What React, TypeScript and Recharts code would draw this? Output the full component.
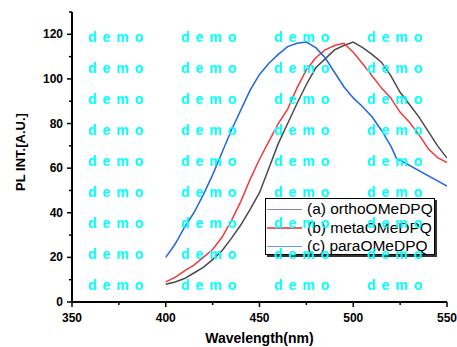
import React from 'react';
import { LineChart, Line, XAxis, YAxis, Legend } from 'recharts';

const wavelengths = [400, 405, 410, 415, 420, 425, 430, 435, 440, 445, 450, 455, 460, 465, 470, 475, 480, 485, 490, 495, 500, 505, 510, 515, 520, 525, 530, 535, 540, 545, 550];
const orthoValues = [8, 9, 10.5, 13, 15.5, 19, 23, 28.5, 34.5, 41.5, 49, 60, 71, 80, 89, 97.5, 105, 109, 113, 115, 116.5, 114, 111, 107.5, 101.5, 94, 88.5, 83, 76.5, 70, 64.5];
const metaValues = [9, 11, 14, 16.5, 20, 23.5, 29, 36.5, 45, 55, 64, 72, 80, 86.5, 96, 104, 109.5, 113, 115, 116, 112, 106.8, 101.4, 96, 91.5, 85, 80.6, 75, 68.7, 64.7, 62.5];
const paraWavelengths = [400, 405, 410, 415, 420, 425, 430, 435, 440, 445, 450, 455, 460, 465, 470, 475, 480, 485, 490, 495, 500, 505, 510, 515, 520, 523, 550];
const paraValues = [20, 26, 33.5, 40, 48, 57, 67, 77, 86, 95, 102, 107, 111, 114.5, 116, 116.5, 114, 109.5, 103, 96.5, 91.5, 87.5, 83, 77, 70, 64.5, 52];

const seriesNames = ['(a) orthoOMeDPQ', '(b) metaOMeDPQ', '(c) paraOMeDPQ'];
const seriesColors = ['#4a4a4a', '#f03a3a', '#2266e0'];
const legendColors = ['#8a8a8a', '#f06060', '#6a9af0'];

const xTicks = [350, 375, 400, 425, 450, 475, 500, 525, 550];
const yTicks = [0, 10, 20, 30, 40, 50, 60, 70, 80, 90, 100, 110, 120, 130];

const watermarkText = 'demo';
const watermarkCols = [88, 181, 274, 367];
const watermarkRows = [41.7, 72.7, 103.7, 134.7, 165.7, 196.7, 227.7, 258.7, 289.7];

const orthoData = wavelengths.map((w, i) => ({ w, v: orthoValues[i] }));
const metaData = wavelengths.map((w, i) => ({ w, v: metaValues[i] }));
const paraData = paraWavelengths.map((w, i) => ({ w, v: paraValues[i] }));

const FONT = '"Liberation Sans", Arial, Helvetica, sans-serif';

const XTick = (props: any) => {
  const { x, y, payload } = props;
  const major = payload.value % 50 === 0;
  return (
    <g>
      <line x1={x} x2={x} y1={y} y2={y + (major ? 5 : 3)} stroke="#000" strokeWidth={1.5} />
      {major && (
        <text x={x} y={y + 20} textAnchor="middle" fontSize={12} fontFamily={FONT} fontWeight="bold" fill="#000">
          {payload.value}
        </text>
      )}
    </g>
  );
};

const YTick = (props: any) => {
  const { x, y, payload } = props;
  const major = payload.value % 20 === 0;
  return (
    <g>
      <line x1={x} x2={x - (major ? 5 : 3)} y1={y} y2={y} stroke="#000" strokeWidth={1.5} />
      {major && (
        <text x={x - 9} y={y + 4} textAnchor="end" fontSize={12} fontFamily={FONT} fontWeight="bold" fill="#000">
          {payload.value}
        </text>
      )}
    </g>
  );
};

const YTitle = (props: any) => {
  const vb = props.viewBox || { x: 0, y: 12, width: 72, height: 290 };
  const cx = 20;
  const cy = vb.y + vb.height / 2 - 5;
  return (
    <text
      x={cx}
      y={cy}
      transform={`rotate(-90, ${cx}, ${cy})`}
      textAnchor="middle"
      dominantBaseline="central"
      fontSize={13}
      fontWeight="bold"
      fontFamily={FONT}
      fill="#000"
    >
      PL INT.[A.U.]
    </text>
  );
};

const LegendBox = (props: any) => {
  const payload = props.payload || [];
  return (
    <div
      style={{
        width: 170,
        height: 57,
        border: '1px solid #000',
        boxShadow: '2px 2px 0 #333',
        background: '#fff',
        boxSizing: 'border-box',
        paddingTop: 1,
        fontFamily: FONT,
      }}
    >
      {payload.map((entry: any, i: number) => (
        <div key={i} style={{ display: 'flex', alignItems: 'center', height: 18.5 }}>
          <div style={{ width: 35, height: 1.5, background: legendColors[i], marginLeft: 1, marginRight: 5 }} />
          <span style={{ fontSize: 15.5, color: '#000', lineHeight: '18px', whiteSpace: 'nowrap' }}>{entry.value}</span>
        </div>
      ))}
    </div>
  );
};

export default function App() {
  return (
    <div style={{ position: 'absolute', left: 0, top: 0, width: 457, height: 347, background: '#fff' }}>
      <LineChart width={457} height={347} margin={{ top: 12, right: 10, bottom: 0, left: 0 }}>
        <XAxis
          type="number"
          dataKey="w"
          domain={[350, 550]}
          ticks={xTicks}
          interval={0}
          height={45}
          tickSize={0}
          tickMargin={0}
          tickLine={false}
          axisLine={{ stroke: '#000', strokeWidth: 2 }}
          tick={<XTick />}
          allowDataOverflow
          label={{
            value: 'Wavelength(nm)',
            position: 'insideBottom',
            offset: 4,
            style: { fontSize: 14, fontWeight: 'bold', fontFamily: FONT, fill: '#000' },
          }}
        />
        <YAxis
          type="number"
          domain={[0, 130]}
          ticks={yTicks}
          interval={0}
          width={72}
          tickSize={0}
          tickMargin={0}
          tickLine={false}
          axisLine={{ stroke: '#000', strokeWidth: 2 }}
          tick={<YTick />}
          allowDataOverflow
          label={{ content: (p: any) => <YTitle {...p} /> }}
        />
        <Legend
          layout="horizontal"
          verticalAlign="middle"
          align="center"
          wrapperStyle={{ position: 'absolute', left: 265, top: 198, width: 172, height: 59 }}
          content={(p: any) => <LegendBox {...p} />}
        />
        <Line data={orthoData} dataKey="v" name={seriesNames[0]} type="linear" stroke={seriesColors[0]} strokeWidth={1.5} dot={false} isAnimationActive={false} />
        <Line data={metaData} dataKey="v" name={seriesNames[1]} type="linear" stroke={seriesColors[1]} strokeWidth={1.5} dot={false} isAnimationActive={false} />
        <Line data={paraData} dataKey="v" name={seriesNames[2]} type="linear" stroke={seriesColors[2]} strokeWidth={1.5} dot={false} isAnimationActive={false} />
      </LineChart>
      <svg width={457} height={347} style={{ position: 'absolute', left: 0, top: 0, pointerEvents: 'none' }}>
        {watermarkRows.map((ry, ri) =>
          watermarkCols.map((cx, ci) => (
            <text
              key={`${ri}-${ci}`}
              x={cx}
              y={ry}
              fontSize={14}
              fontWeight="bold"
              fontFamily={FONT}
              fill="#00ffff"
              letterSpacing={6}
            >
              {watermarkText}
            </text>
          ))
        )}
      </svg>
    </div>
  );
}
